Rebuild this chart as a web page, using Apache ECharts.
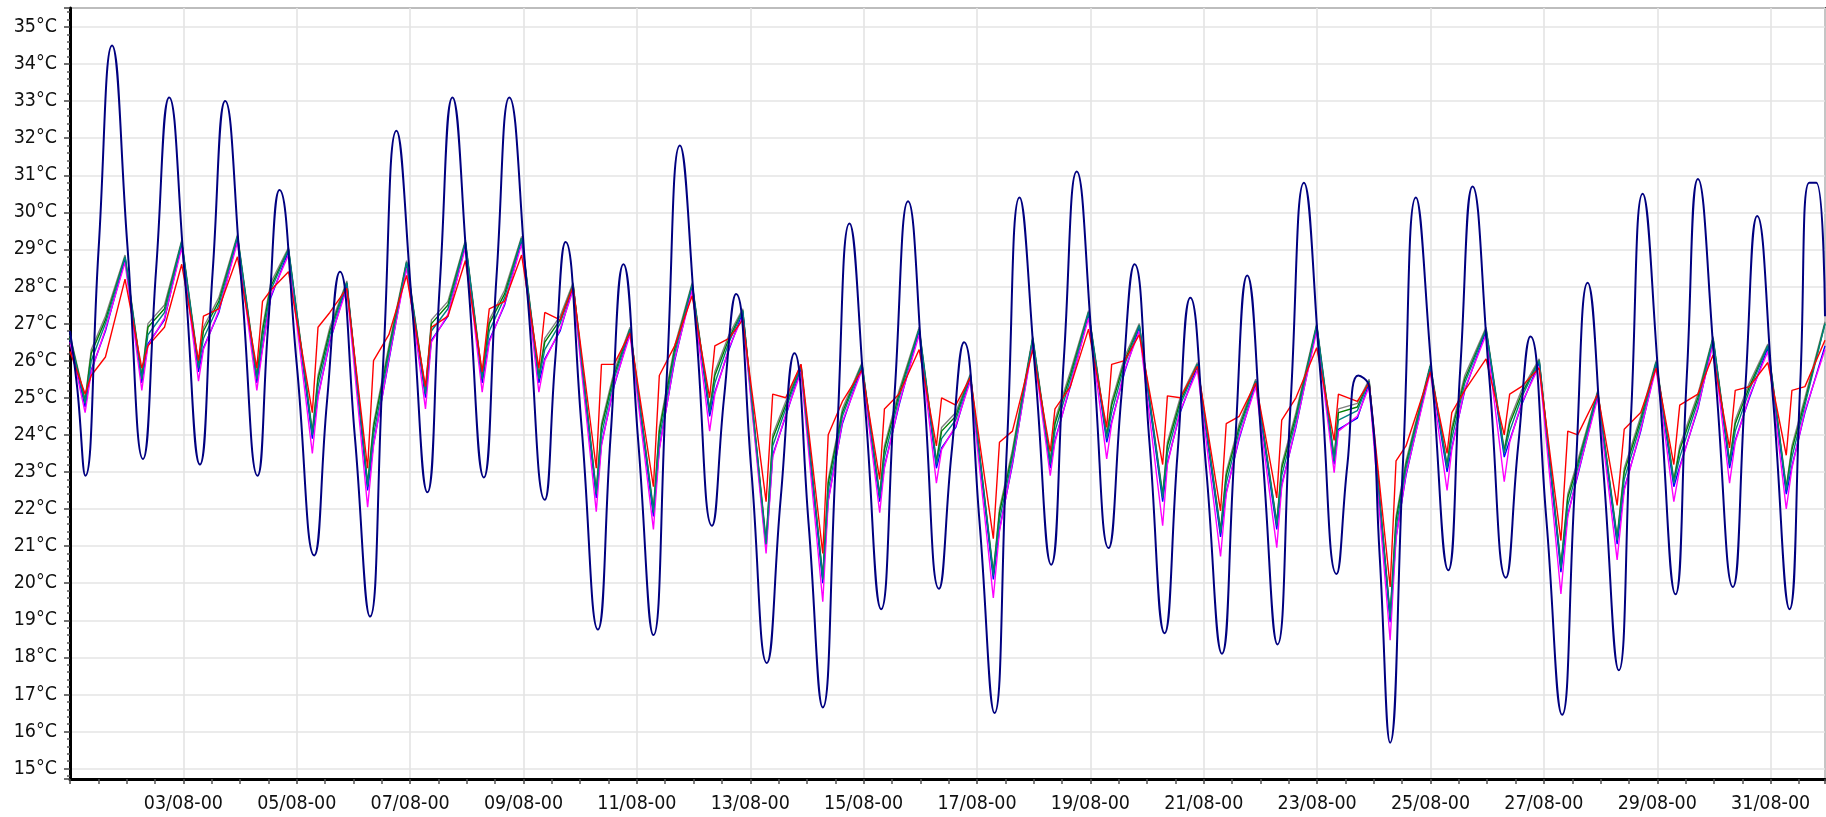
<!DOCTYPE html>
<html>
<head>
<meta charset="utf-8">
<script src="https://cdn.jsdelivr.net/npm/echarts@6/dist/echarts.min.js"></script>
<style>
html,body{margin:0;padding:0;background:#fff;}
#c{width:1826px;height:817px;}
</style>
</head>
<body>
<div id="c"></div>
<script>
// x values are hours since 01/08 00:00
const outdoor = [
[0,26.8],[3,25.3],[6.5,22.9],[12.1,29.0],[17.8,34.5],[24.3,29.1],
[30.9,23.35],[36.5,28.5],[42.0,33.1],[48.5,28.35],
[55.0,23.2],[60.4,28.4],[65.7,33.0],[72.5,28.15],
[79.4,22.9],[84.0,27.05],[88.7,30.6],[96.0,25.9],
[103.4,20.75],[108.8,24.9],[114.3,28.4],[120.6,23.95],
[127.0,19.1],[132.6,25.95],[138.2,32.2],[144.8,27.5],
[151.3,22.45],[156.6,28.1],[161.9,33.1],[168.5,28.2],
[175.2,22.85],[180.6,28.3],[186.0,33.1],[193.5,27.9],
[201.0,22.25],[205.4,26.0],[209.8,29.2],[216.6,24.2],
[223.5,18.75],[228.9,24.0],[234.3,28.6],[240.6,23.8],
[247.0,18.6],[252.6,25.5],[258.2,31.8],[265.0,26.9],
[271.8,21.55],[276.9,25.0],[282.0,27.8],[288.5,23.0],
[295.0,17.85],[300.9,22.3],[306.7,26.2],[312.7,21.6],
[318.7,16.65],[324.4,23.5],[330.0,29.7],[336.7,24.7],
[343.4,19.3],[349.1,25.1],[354.8,30.3],[361.4,25.3],
[367.9,19.85],[373.2,23.5],[378.5,26.5],[385.0,21.7],
[391.4,16.5],[396.7,23.75],[402.0,30.4],[408.7,25.65],
[415.4,20.5],[420.8,26.1],[426.2,31.1],[433.0,26.2],
[439.7,20.95],[445.2,25.1],[450.7,28.6],[457.0,23.8],
[463.4,18.65],[468.9,23.5],[474.3,27.7],[481.0,23.1],
[487.7,18.1],[493.0,23.5],[498.4,28.3],[504.8,23.5],
[511.2,18.35],[516.8,24.9],[522.4,30.8],[529.3,25.7],
[536.2,20.25],[540.8,23.2],[545.4,25.6],[550.0,25.3],[554.5,20.7],
[558.9,15.7],[564.4,23.35],[569.8,30.4],[576.6,25.6],
[583.5,20.35],[588.6,25.8],[593.8,30.7],[600.8,25.6],
[607.9,20.15],[613.1,23.7],[618.3,26.65],[625.0,21.75],
[631.7,16.45],[637.1,22.6],[642.5,28.1],[649.1,23.1],
[655.7,17.65],[660.8,24.4],[665.8,30.5],[672.8,25.3],
[679.7,19.7],[684.5,25.6],[689.2,30.9],[696.6,25.6],
[704.0,19.9],[709.2,25.2],[714.3,29.9],[721.2,24.8],
[728.0,19.3],[732.5,25.35],[736.3,30.8],[739.3,30.8],[743.0,27.2]
];

const indoorHours = [
0,
6.4,9.0,15.0,23.3,
30.4,33.0,40.0,47.3,
54.4,56.5,63.0,70.9,
79.1,81.5,85.0,92.5,
102.6,105.0,110.0,117.2,
126.0,128.5,135.0,142.5,
150.5,153.0,160.0,167.4,
174.5,177.5,184.0,191.2,
198.5,201.0,207.5,213.0,
222.8,225.0,230.3,237.1,
247.0,249.5,256.0,263.4,
270.8,273.0,279.0,284.8,
294.7,297.5,303.0,309.5,
318.7,321.0,327.0,335.3,
342.8,344.8,351.0,359.5,
366.8,369.0,375.0,381.2,
390.9,393.5,399.0,407.6,
415.0,417.0,423.5,431.2,
438.9,441.0,446.5,452.7,
462.6,464.6,470.0,477.3,
487.1,489.5,495.0,502.0,
510.9,513.0,519.0,527.8,
535.2,537.0,545.0,550.0,
558.9,561.4,565.6,575.9,
583.0,585.0,590.5,599.5,
607.2,609.5,614.5,622.0,
631.2,634.1,638.3,646.8,
655.0,658.0,665.0,671.5,
679.0,681.5,689.2,695.6,
702.6,705.0,711.0,718.8,
726.6,729.0,734.5,743.0
];

const tealTemps = [
26.6,
24.85,26.0,27.0,28.8,
25.5,26.7,27.3,29.2,
25.8,26.6,27.5,29.35,
25.5,26.6,27.9,29.0,
24.0,25.3,26.7,28.1,
22.6,24.0,26.2,28.65,
25.1,26.8,27.4,29.2,
25.5,26.8,27.7,29.3,
25.5,26.3,27.0,28.05,
22.4,24.0,25.5,26.85,
21.9,23.9,26.2,28.05,
24.6,25.4,26.5,27.35,
21.05,23.7,24.7,25.85,
20.1,22.5,24.5,25.9,
22.3,23.4,25.0,26.85,
23.2,23.9,24.4,25.6,
20.2,21.7,23.4,26.6,
23.2,24.1,25.5,27.3,
23.9,24.6,25.9,26.95,
22.3,23.5,24.8,25.9,
21.35,22.7,24.1,25.45,
21.55,22.9,24.4,26.95,
23.3,24.4,24.65,25.45,
19.05,21.5,23.1,25.85,
23.1,23.9,25.4,26.85,
23.5,24.1,25.0,26.0,
20.4,22.1,23.1,25.15,
21.15,22.8,24.3,25.95,
22.7,23.4,24.9,26.6,
23.2,24.1,25.2,26.4,
22.5,23.4,24.8,27.0
];

const redTemps = [
26.25,
25.1,25.6,26.1,28.2,
25.8,26.4,26.9,28.6,
26.0,27.2,27.4,28.8,
25.8,27.6,27.9,28.4,
24.6,26.9,27.3,27.95,
23.1,26.0,26.7,28.3,
25.3,26.9,27.2,28.7,
25.7,27.4,27.6,28.85,
25.8,27.3,27.1,28.0,
23.1,25.9,25.9,26.75,
22.6,25.6,26.4,27.75,
25.0,26.4,26.6,27.1,
22.2,25.1,25.0,25.9,
20.8,24.0,24.9,25.75,
22.8,24.7,25.1,26.3,
23.7,25.0,24.8,25.55,
21.2,23.8,24.1,26.3,
23.55,24.7,25.3,26.85,
24.2,25.9,26.0,26.7,
23.2,25.05,25.0,25.85,
21.95,24.3,24.5,25.4,
22.3,24.4,25.0,26.35,
23.85,25.1,24.9,25.4,
19.9,23.3,23.7,25.7,
23.5,24.6,25.2,26.05,
24.0,25.1,25.3,25.8,
21.15,24.1,24.0,25.1,
22.1,24.15,24.6,25.8,
23.2,24.8,25.1,26.15,
23.65,25.2,25.3,25.95,
23.45,25.2,25.3,26.55
];

const magentaTemps = [
26.5,
24.6,25.7,26.85,28.65,
25.2,26.4,27.15,29.05,
25.45,26.3,27.35,29.2,
25.2,26.3,27.75,28.85,
23.5,25.0,26.55,27.95,
22.05,23.7,26.05,28.5,
24.7,26.5,27.25,29.05,
25.15,26.5,27.55,29.15,
25.15,26.0,26.85,27.9,
21.93,23.7,25.35,26.7,
21.45,23.6,26.05,27.9,
24.1,25.1,26.35,27.2,
20.8,23.4,24.55,25.7,
19.5,22.2,24.35,25.75,
21.9,23.1,24.85,26.7,
22.7,23.6,24.25,25.45,
19.6,21.4,23.25,26.45,
22.9,23.8,25.35,27.15,
23.35,24.3,25.75,26.8,
21.55,23.2,24.65,25.75,
20.72,22.4,23.95,25.3,
20.96,22.6,24.25,26.8,
22.98,24.1,24.5,25.3,
18.46,21.2,22.95,25.7,
22.5,23.6,25.25,26.7,
22.74,23.8,24.85,25.85,
19.71,21.8,22.95,25.0,
20.63,22.5,24.15,25.8,
22.2,23.1,24.75,26.45,
22.7,23.8,25.05,26.25,
22.0,23.1,24.65,26.3
];

const blueTemps = [
26.55,
24.75,25.75,26.8,28.75,
25.4,26.45,27.1,29.15,
25.7,26.35,27.3,29.3,
25.4,26.35,27.7,28.95,
23.9,25.05,26.5,28.05,
22.5,23.75,26.0,28.6,
25.0,26.55,27.2,29.15,
25.4,26.55,27.5,29.25,
25.4,26.05,26.8,28.0,
22.3,23.75,25.3,26.8,
21.8,23.65,26.0,28.0,
24.5,25.15,26.3,27.3,
20.95,23.45,24.5,25.8,
20.0,22.25,24.3,25.85,
22.2,23.15,24.8,26.8,
23.1,23.65,24.2,25.55,
20.1,21.45,23.2,26.55,
23.1,23.85,25.3,27.25,
23.8,24.35,25.7,26.9,
22.2,23.25,24.6,25.85,
21.25,22.45,23.9,25.4,
21.45,22.65,24.2,26.9,
23.2,24.15,24.45,25.4,
18.95,21.25,22.9,25.8,
23.0,23.65,25.2,26.8,
23.4,23.85,24.8,25.95,
20.3,21.85,22.9,25.1,
21.05,22.55,24.1,25.9,
22.6,23.15,24.7,26.55,
23.1,23.85,25.0,26.35,
22.4,23.15,24.6,26.4
];

const greenTemps = [
26.65,
24.9,26.2,27.1,28.8,
25.55,26.9,27.4,29.2,
25.85,26.8,27.6,29.35,
25.55,26.8,28.0,29.0,
24.05,25.5,26.8,28.1,
22.65,24.2,26.3,28.65,
25.15,27.0,27.5,29.2,
25.55,27.0,27.8,29.3,
25.55,26.5,27.1,28.05,
22.45,24.2,25.6,26.85,
21.95,24.1,26.3,28.05,
24.65,25.6,26.6,27.35,
21.1,23.9,24.8,25.85,
20.15,22.7,24.6,25.9,
22.35,23.6,25.1,26.85,
23.25,24.1,24.5,25.6,
20.25,21.9,23.5,26.6,
23.25,24.3,25.6,27.3,
23.95,24.8,26.0,26.95,
22.35,23.7,24.9,25.9,
21.4,22.9,24.2,25.45,
21.6,23.1,24.5,26.95,
23.35,24.6,24.75,25.45,
19.1,21.7,23.2,25.85,
23.15,24.1,25.5,26.85,
23.55,24.3,25.1,26.0,
20.45,22.3,23.2,25.15,
21.2,23.0,24.4,25.95,
22.75,23.6,25.0,26.6,
23.25,24.3,25.3,26.4,
22.55,23.6,24.9,27.0
];

const grayTemps = [
26.7,
24.95,26.3,27.2,28.85,
25.6,27.0,27.5,29.25,
25.9,26.9,27.7,29.4,
25.6,26.9,28.1,29.05,
24.1,25.6,26.9,28.15,
22.7,24.3,26.4,28.7,
25.2,27.1,27.6,29.25,
25.6,27.1,27.9,29.35,
25.6,26.6,27.2,28.1,
22.5,24.3,25.7,26.9,
22.0,24.2,26.4,28.1,
24.7,25.7,26.7,27.4,
21.15,24.0,24.9,25.9,
20.2,22.8,24.7,25.95,
22.4,23.7,25.2,26.9,
23.3,24.2,24.6,25.65,
20.3,22.0,23.6,26.65,
23.3,24.4,25.7,27.35,
24.0,24.9,26.1,27.0,
22.4,23.8,25.0,25.95,
21.45,23.0,24.3,25.5,
21.65,23.2,24.6,27.0,
23.4,24.7,24.85,25.5,
19.15,21.8,23.3,25.9,
23.2,24.2,25.6,26.9,
23.6,24.4,25.2,26.05,
20.5,22.4,23.3,25.2,
21.25,23.1,24.5,26.0,
22.8,23.7,25.1,26.65,
23.3,24.4,25.4,26.45,
22.6,23.7,25.0,27.05
];

const FONT = "'DejaVu Sans Condensed','DejaVu Sans',sans-serif";

function pairs(hours, temps) {
  const n = Math.min(hours.length, temps.length);
  const out = [];
  for (let i = 0; i < n; i++) out.push([hours[i], temps[i]]);
  return out;
}
function indoor(name, color, temps) {
  return {
    name: name, type: 'line', showSymbol: false, symbol: 'none',
    data: pairs(indoorHours, temps),
    lineStyle: { color: color, width: 1.4 },
    itemStyle: { color: color },
    silent: true
  };
}
function pad(n) { return (n < 10 ? '0' : '') + n; }

const chart = echarts.init(document.getElementById('c'), null, { renderer: 'canvas' });
chart.setOption({
  animation: false,
  backgroundColor: '#ffffff',
  grid: {
    left: 70, right: 1, top: 8, bottom: 38,
    show: true, borderColor: '#4a4a4a', borderWidth: 2, backgroundColor: '#ffffff'
  },
  xAxis: {
    type: 'value', min: 0, max: 743, interval: 48,
    axisLine: { show: true, onZero: false, lineStyle: { color: '#000', width: 3 } },
    axisTick: { show: true, length: 5, lineStyle: { color: '#444', width: 1.5 } },
    minorTick: { show: true, splitNumber: 4, length: 5, lineStyle: { color: '#555', width: 1.5 } },
    splitLine: { show: true, lineStyle: { color: '#e4e4e4', width: 1.6 } },
    axisLabel: {
      show: true, margin: 15, color: '#111', fontSize: 19.5, fontFamily: FONT,
      showMinLabel: false, showMaxLabel: false,
      formatter: function (v) { return pad(Math.round(v / 24) + 1) + '/08-00'; }
    }
  },
  yAxis: {
    type: 'value', min: 14.72, max: 35.51, minInterval: 1, maxInterval: 1, splitNumber: 20,
    axisLine: { show: true, onZero: false, lineStyle: { color: '#000', width: 3 } },
    axisTick: { show: true, length: 6, lineStyle: { color: '#444', width: 1.5 } },
    minorTick: { show: true, splitNumber: 5, length: 3, lineStyle: { color: '#555', width: 1.5 } },
    splitLine: { show: true, lineStyle: { color: '#e4e4e4', width: 1.6 } },
    axisLabel: {
      show: true, margin: 13, color: '#111', fontSize: 19.5, fontFamily: FONT,
      showMinLabel: false, showMaxLabel: false,
      formatter: function (v) { return Math.round(v) + '°C'; }
    }
  },
  series: [
    indoor('gray', '#808080', grayTemps),
    indoor('green', '#008000', greenTemps),
    indoor('blue', '#0000ff', blueTemps),
    indoor('magenta', '#ff00ff', magentaTemps),
    indoor('teal', '#008080', tealTemps),
    indoor('red', '#ff0000', redTemps),
    {
      name: 'outdoor', type: 'line', showSymbol: false, symbol: 'none',
      smooth: 0.5,
      data: outdoor,
      lineStyle: { color: '#000080', width: 2 },
      itemStyle: { color: '#000080' },
      silent: true
    }
  ]
});
</script>
</body>
</html>
